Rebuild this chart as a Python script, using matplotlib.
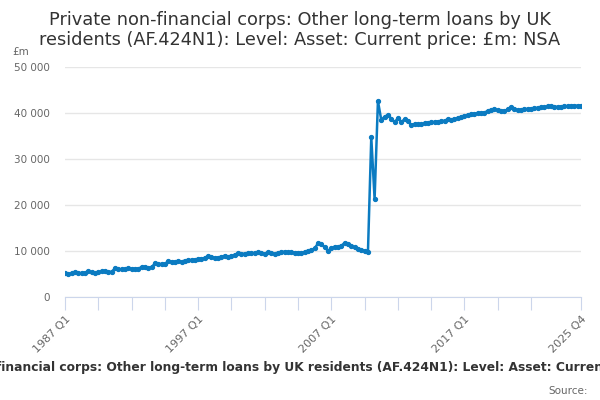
import matplotlib
matplotlib.use("Agg")
import matplotlib.pyplot as plt
import numpy as np

# Quarterly levels, £m, 1987 Q1 .. 2025 Q4
values = [
    5150, 5000, 5150, 5350, 5200, 5200, 5300, 5550, 5350, 5200,
    5350, 5550, 5550, 5400, 5500, 6200, 6050, 6000, 6050, 6200,
    6150, 6100, 6150, 6500, 6500, 6300, 6450, 7300, 7200, 7150,
    7200, 7750, 7700, 7600, 7750, 7700, 7900, 8050, 8050, 8100,
    8300, 8350, 8450, 8980, 8750, 8480, 8550, 8750, 8980, 8700,
    8850, 9200, 9500, 9350, 9420, 9500, 9500, 9570, 9710, 9570,
    9420, 9710, 9500, 9350, 9640, 9780, 9860, 9710, 9710, 9640,
    9640, 9570, 9780, 10070, 10220, 10580, 11670, 11520, 10800, 10070,
    10580, 10940, 10800, 11090, 11810, 11520, 11090, 10800, 10500, 10220,
    10070, 9710, 34700, 21300, 42600, 38500, 39200, 39550, 38800, 38000,
    38850, 38100, 38600, 38250, 37400, 37600, 37600, 37500, 37750, 37900,
    38000, 38050, 38100, 38250, 38300, 38650, 38500, 38650, 38950, 39150,
    39350, 39600, 39700, 39800, 39950, 40000, 40100, 40450, 40600, 40800,
    40600, 40450, 40450, 40800, 41300, 40950, 40600, 40700, 40800, 40900,
    40950, 41000, 41150, 41250, 41300, 41450, 41450, 41400, 41300, 41400,
    41450, 41500, 41500, 41600, 41600, 41600,
]
quarters = [f"{y} Q{q}" for y in range(1987, 2026) for q in range(1, 5)]

tick_idx = list(range(0, 141, 10)) + [155]
label_idx = [0, 40, 80, 120, 155]
y_ticks = [0, 10000, 20000, 30000, 40000, 50000]
y_labels = ["0", "10 000", "20 000", "30 000", "40 000", "50 000"]

title = ("Private non-financial corps: Other long-term loans by UK residents "
         "(AF.424N1): Level: Asset: Current price: £m: NSA")

fig = plt.figure(figsize=(6, 4), dpi=100)
ax = fig.add_axes([65/600, 103/400, 516/600, 230/400])

x = np.arange(len(values))
ax.plot(x, values, color="#0b7bc1", lw=1.8, marker="o", ms=2.8, zorder=3)

ax.set_xlim(0, 155)
ax.set_ylim(0, 50000)
ax.set_yticks(y_ticks)
ax.set_yticklabels(y_labels, color="#666666", fontsize=7.5)
ax.yaxis.grid(True, color="#e6e6e6", lw=1)
ax.set_axisbelow(True)
ax.tick_params(axis="y", length=0, pad=11)

ax.set_xticks(tick_idx)
ax.set_xticklabels([quarters[i] if i in label_idx else "" for i in tick_idx],
                   rotation=45, ha="right", rotation_mode="anchor",
                   color="#666666", fontsize=8)
ax.tick_params(axis="x", length=9, color="#ccd6eb", pad=3)

for s in ["top", "right", "left"]:
    ax.spines[s].set_visible(False)
ax.spines["bottom"].set_color("#ccd6eb")

fig.text(0.5, 0.972, "Private non-financial corps: Other long-term loans by UK\n"
         "residents (AF.424N1): Level: Asset: Current price: £m: NSA",
         ha="center", va="top", fontsize=12.8, color="#333333", linespacing=1.12)
fig.text(12/600, 1 - 52/400, "£m", fontsize=7.5, color="#666666", va="center")
fig.text(0.522, 1 - 368/400, title, ha="center", va="center",
         fontsize=8.8, fontweight="bold", color="#333333")
fig.text(588/600, 1 - 391/400, "Source:", ha="right", va="center",
         fontsize=7.5, color="#666666")

fig.savefig("out.png", dpi=100)
